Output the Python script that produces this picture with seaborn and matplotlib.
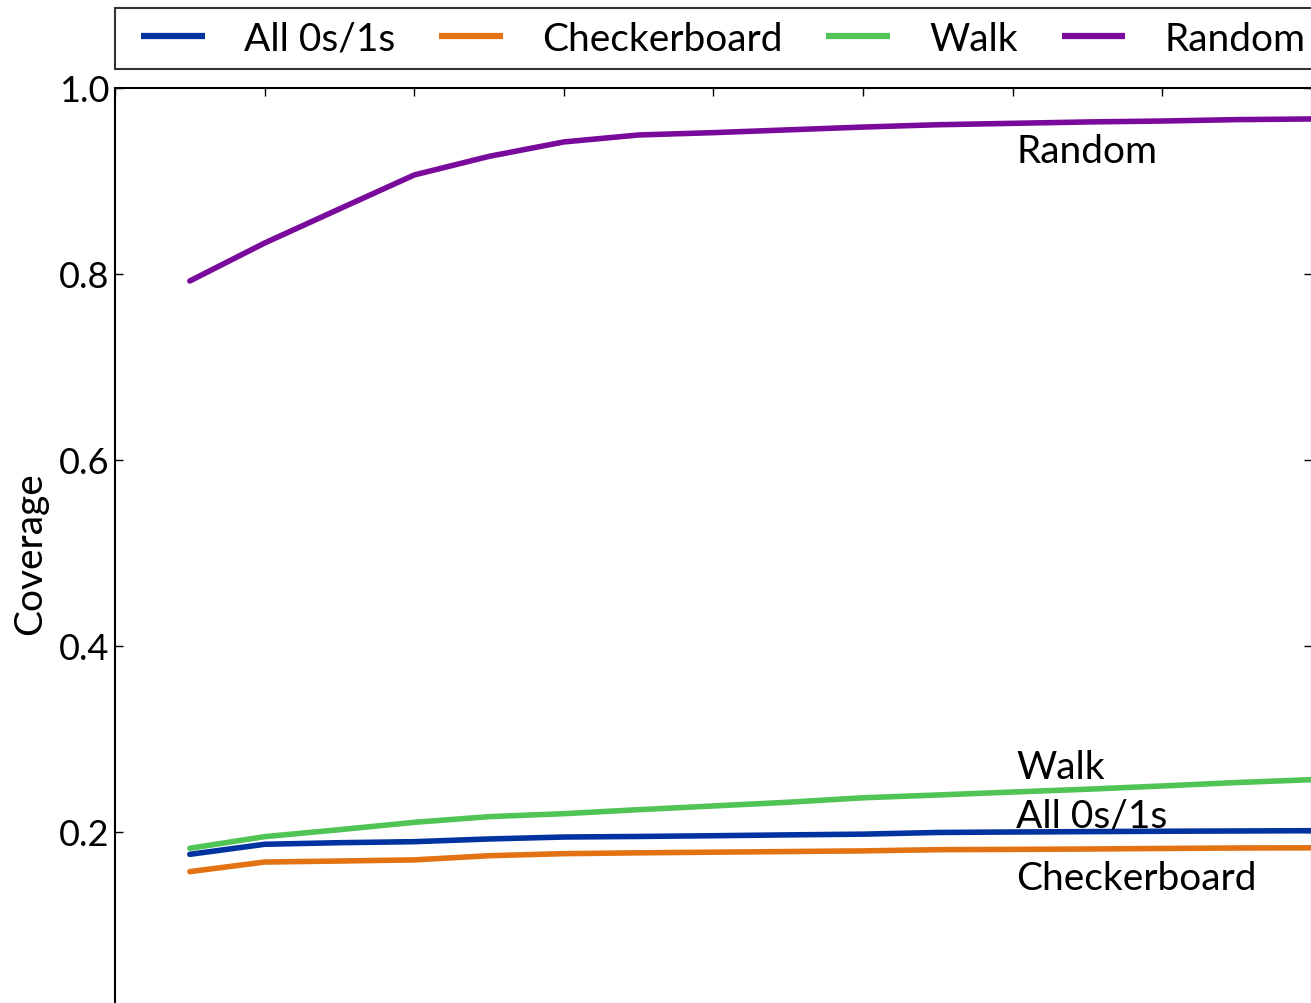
import matplotlib
matplotlib.use("Agg")
import matplotlib.pyplot as plt
from matplotlib.lines import Line2D
from matplotlib.legend_handler import HandlerLine2D
import seaborn as sns
import pandas as pd

# data
steps = list(range(1, 17))
all_01 = [0.176, 0.1868, 0.1885, 0.1896, 0.1925, 0.1946, 0.1952, 0.196,
          0.1969, 0.1977, 0.1995, 0.200, 0.2004, 0.2008, 0.2011, 0.2014]
checkerboard = [0.1574, 0.1677, 0.1688, 0.170, 0.1745, 0.1767, 0.1776, 0.1783,
                0.179, 0.1797, 0.181, 0.1813, 0.1817, 0.1823, 0.1828, 0.183]
walk = [0.1825, 0.195, 0.2025, 0.2104, 0.2165, 0.2197, 0.224, 0.228,
        0.232, 0.2368, 0.2398, 0.243, 0.246, 0.2495, 0.2532, 0.2563]
random_ = [0.7925, 0.8333, 0.870, 0.9065, 0.9265, 0.942, 0.9495, 0.952,
           0.955, 0.958, 0.9605, 0.962, 0.9635, 0.9645, 0.966, 0.9667]

series_names = ["All 0s/1s", "Checkerboard", "Walk", "Random"]
colors = ["#0033a0", "#e37212", "#50c454", "#7a0a9c"]
label_pos = [0.206, 0.1387, 0.258, 0.920]  # inline label baselines
label_x = 12.05

df = pd.DataFrame({
    "step": steps * 4,
    "coverage": all_01 + checkerboard + walk + random_,
    "pattern": [n for n in series_names for _ in steps],
})

sns.set_style("ticks")
plt.rcParams["font.family"] = ["Lato", "DejaVu Sans"]
for key in ["text.color", "axes.labelcolor", "xtick.color", "ytick.color"]:
    plt.rcParams[key] = "black"

fig = plt.figure(figsize=(13.11, 10.04), dpi=100)
# axes run off the right and bottom edges, like the cropped original
ax = fig.add_axes([115 / 1311, -15 / 1004, 1197 / 1311, 930 / 1004])

sns.lineplot(data=df, x="step", y="coverage", hue="pattern",
             hue_order=series_names, palette=colors, linewidth=4.0,
             errorbar=None, ax=ax)

ax.set_xlim(0, 16)
ax.set_ylim(0, 1.0)
ax.set_xticks(range(0, 17, 2))
ax.set_yticks([0.2, 0.4, 0.6, 0.8, 1.0])
ax.set_xlabel("")
ax.set_ylabel("Coverage", fontsize=28, labelpad=8)
ax.tick_params(direction="in", top=True, right=True, length=6, width=1,
               labelsize=26, pad=4, color="black", labelbottom=False)
for s in ax.spines.values():
    s.set_linewidth(1.5)
    s.set_color("black")

for name, y in zip(series_names, label_pos):
    ax.text(label_x, y, name, fontsize=28, ha="left", va="baseline")

handles, labels = ax.get_legend_handles_labels()
leg = ax.legend(handles, labels, loc="lower left",
                bbox_to_anchor=(0, 1 + 19 / 930), borderaxespad=0,
                ncol=4, fontsize=28, frameon=True, fancybox=False,
                handlelength=2.0, handletextpad=1.0, columnspacing=0.77,
                borderpad=0.32,
                handler_map={Line2D: HandlerLine2D(xpad=0.36)})
leg.get_frame().set_edgecolor("black")
leg.get_frame().set_linewidth(1.5)
for line in leg.get_lines():
    line.set_linewidth(4.5)
    line.set_solid_capstyle("butt")

fig.savefig("out.png", dpi=100)
